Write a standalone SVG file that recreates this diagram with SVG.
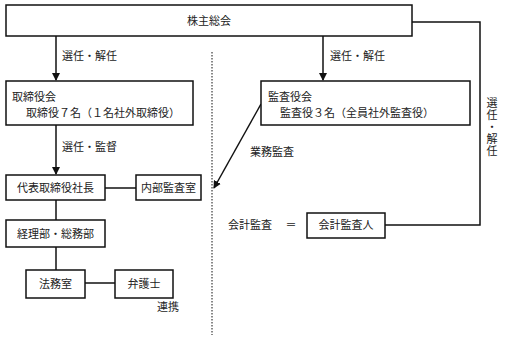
<svg xmlns="http://www.w3.org/2000/svg" width="505" height="342" viewBox="0 0 505 342">
<style>
text{font-family:"Noto Sans CJK JP","Liberation Sans",sans-serif;font-size:11px;fill:#222}
.c{text-anchor:middle}
.v{writing-mode:vertical-rl;letter-spacing:1px}
rect{fill:#fff;stroke:#111;stroke-width:1.5}
.ln{stroke:#111;stroke-width:1.5;fill:none}
.dot{stroke:#111;stroke-width:1;stroke-dasharray:1.5 1.5;fill:none}
</style>
<defs>
<marker id="ah" markerWidth="8" markerHeight="8" refX="7" refY="4" orient="auto" markerUnits="userSpaceOnUse">
<path d="M0,0 L8,4 L0,8 Z" fill="#111"/>
</marker>
</defs>
<g id="connectors">
<line class="ln" x1="56" y1="36" x2="56" y2="80" marker-end="url(#ah)"/>
<line class="ln" x1="323" y1="36" x2="323" y2="80" marker-end="url(#ah)"/>
<line class="ln" x1="56" y1="125" x2="56" y2="174" marker-end="url(#ah)"/>
<line class="ln" x1="105" y1="188" x2="136" y2="188"/>
<line class="ln" x1="56" y1="200" x2="56" y2="220"/>
<line class="ln" x1="56" y1="247" x2="56" y2="270"/>
<line class="ln" x1="85" y1="283" x2="115" y2="283"/>
<line class="ln" x1="261" y1="104" x2="214" y2="188" marker-end="url(#ah)"/>
<polyline class="ln" points="412,22 480,22 480,225 385,225"/>
<line class="dot" x1="212" y1="52" x2="212" y2="335"/>
</g>
<g id="n-shareholders"><rect x="6" y="5" width="406" height="31"/><text class="c" x="209" y="25">株主総会</text></g>
<g id="n-board"><rect x="6" y="81" width="187" height="44"/><text x="12" y="101">取締役会</text><text x="26" y="117">取締役７名（１名社外取締役）</text></g>
<g id="n-auditors"><rect x="261" y="81" width="209" height="44"/><text x="268" y="101">監査役会</text><text x="280" y="117">監査役３名（全員社外監査役）</text></g>
<g id="n-president"><rect x="6" y="175" width="99" height="25"/><text class="c" x="55.500" y="192">代表取締役社長</text></g>
<g id="n-internal"><rect x="136" y="175" width="65" height="25"/><text class="c" x="168.500" y="192">内部監査室</text></g>
<g id="n-accounting"><rect x="6" y="220" width="99" height="27"/><text class="c" x="55.500" y="238">経理部・総務部</text></g>
<g id="n-legal"><rect x="26" y="270" width="59" height="28"/><text class="c" x="55.500" y="288">法務室</text></g>
<g id="n-lawyer"><rect x="115" y="270" width="58" height="28"/><text class="c" x="144" y="288">弁護士</text></g>
<g id="n-cpa"><rect x="307" y="213" width="78" height="25"/><text class="c" x="346" y="229">会計監査人</text></g>
<g id="labels">
<text x="62" y="60">選任・解任</text>
<text x="330" y="60">選任・解任</text>
<text x="62" y="151">選任・監督</text>
<text x="250" y="156">業務監査</text>
<text x="157" y="311">連携</text>
<text x="228" y="229">会計監査</text>
<text class="c" x="291" y="229">＝</text>
<text class="v" x="492" y="97">選任・解任</text>
</g>
</svg>
